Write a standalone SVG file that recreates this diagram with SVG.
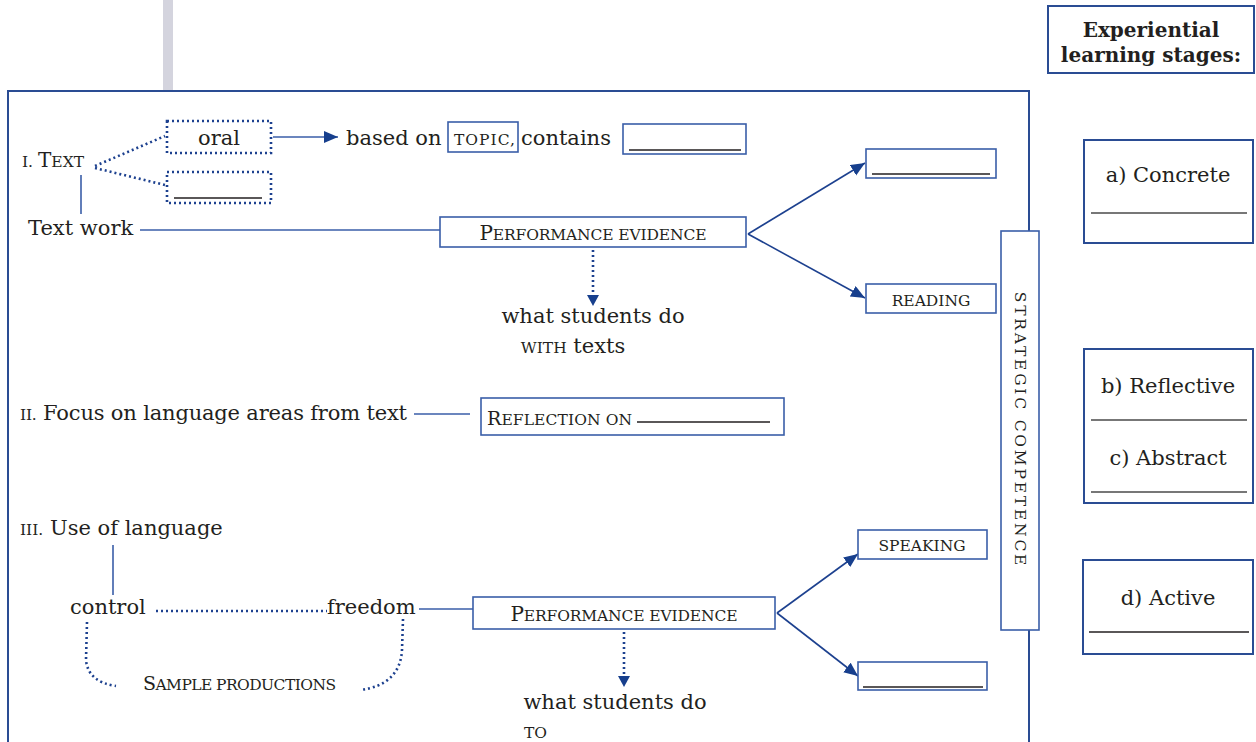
<svg xmlns="http://www.w3.org/2000/svg" width="1256" height="742" viewBox="0 0 1256 742">
<defs>
<marker id="ah" markerUnits="userSpaceOnUse" markerWidth="16" markerHeight="14" refX="14" refY="6" orient="auto">
<path d="M0,0 L14,6 L0,12 Z" fill="#173f8d"/>
</marker>
<style>
text{font-family:"DejaVu Serif","Liberation Serif",serif;fill:#231f20;font-size:21px}
.sc{font-size:15.5px}
.box{fill:#fff;stroke:#3a5ea8;stroke-width:1.6}
.bx2{fill:#fff;stroke:#2a4c93;stroke-width:2}
.dot{fill:none;stroke:#1d418f;stroke-width:2.6;stroke-dasharray:2 3}
.ln{fill:none;stroke:#3a5ea8;stroke-width:1.6}
.arr{fill:none;stroke:#1d418f;stroke-width:1.6}
.ul{stroke:#231f20;stroke-width:1.6}
.gl{stroke:#4a4a4a;stroke-width:1.6}
.bold{font-weight:bold;font-size:20px}
</style>
</defs>
<rect x="163" y="0" width="10" height="91" fill="#d4d4de"/>
<rect id="frame" x="8" y="91" width="1021" height="680" fill="none" stroke="#2a4c93" stroke-width="2"/>

<g id="connectors">
<path class="dot" d="M95,166 L165,136"/>
<path class="dot" d="M95,168 L165,185"/>
<path class="ln" d="M81,175 L81,214"/>
<path class="ln" d="M273,137 L338,137" marker-end="url(#ah)"/>
<path class="ln" d="M140,230 L440,230"/>
<path class="dot" d="M593,250 L593,296"/>
<path d="M587,295 L599,295 L593,306 Z" fill="#173f8d"/>
<path class="arr" d="M748,234 L865,163" marker-end="url(#ah)"/>
<path class="arr" d="M748,234 L865,298" marker-end="url(#ah)"/>
<path class="ln" d="M414,414 L470,414"/>
<path class="ln" d="M113,545 L113,595"/>
<path class="dot" d="M156,611 L327,611"/>
<path class="ln" d="M419,609 L473,609"/>
<path class="dot" d="M624,632 L624,677"/>
<path d="M618,676 L630,676 L624,687 Z" fill="#173f8d"/>
<path class="arr" d="M777,613 L858,554" marker-end="url(#ah)"/>
<path class="arr" d="M777,613 L858,676" marker-end="url(#ah)"/>
<path class="dot" d="M87,622 L86,660 Q88,682 116,686"/>
<path class="dot" d="M403,619 L402,650 Q400,685 360,690"/>
</g>

<g id="text-i">
<text x="22" y="167"><tspan class="sc">I. </tspan><tspan font-size="20">T</tspan><tspan class="sc">EXT</tspan></text>
</g>
<g id="oral">
<rect x="167" y="121" width="104" height="32" fill="#fff" stroke="#1d418f" stroke-width="2.6" stroke-dasharray="2 3"/>
<text x="219" y="145" text-anchor="middle">oral</text>
</g>
<g id="blank-oral">
<rect x="167" y="172" width="104" height="31" fill="#fff" stroke="#1d418f" stroke-width="2.6" stroke-dasharray="2 3"/>
<line class="ul" x1="174" y1="198" x2="262" y2="198"/>
</g>
<g id="based-on">
<text x="346" y="145">based on</text>
<rect class="box" x="448" y="122" width="70" height="30"/>
<text x="454" y="145" class="sc" textLength="61">TOPIC,</text>
<text x="521" y="145">contains</text>
</g>
<g id="contains-blank">
<rect class="box" x="623" y="124" width="123" height="30"/>
<line class="ul" x1="629" y1="150" x2="741" y2="150"/>
</g>
<g id="text-work"><text x="28" y="235">Text work</text></g>
<g id="perf1">
<rect class="box" x="440" y="217" width="306" height="30"/>
<text x="593" y="240" text-anchor="middle" textLength="227"><tspan font-size="20">P</tspan><tspan class="sc">ERFORMANCE EVIDENCE</tspan></text>
</g>
<g id="what1">
<text x="593" y="323" text-anchor="middle">what students do</text>
<text x="573" y="353" text-anchor="middle"><tspan class="sc">WITH</tspan> texts</text>
</g>
<g id="blank-top">
<rect class="box" x="866" y="149" width="130" height="29"/>
<line class="ul" x1="872" y1="174" x2="990" y2="174"/>
</g>
<g id="reading">
<rect class="box" x="866" y="284" width="130" height="29"/>
<text x="931" y="306" text-anchor="middle" class="sc">READING</text>
</g>
<g id="strategic">
<rect class="box" x="1001" y="231" width="38" height="399"/>
<text transform="translate(1020,430) rotate(90)" y="5" text-anchor="middle" class="sc" letter-spacing="2.8">STRATEGIC  COMPETENCE</text>
</g>
<g id="focus">
<text x="20" y="420" textLength="387"><tspan class="sc">II.</tspan> Focus on language areas from text</text>
</g>
<g id="reflection">
<rect class="box" x="481" y="398" width="303" height="37"/>
<text x="487" y="425" textLength="145"><tspan font-size="19">R</tspan><tspan class="sc">EFLECTION ON</tspan></text>
<line class="ul" x1="637" y1="422" x2="770" y2="422"/>
</g>
<g id="use">
<text x="20" y="535"><tspan class="sc">III.</tspan> Use of language</text>
</g>
<g id="control"><text x="70" y="614">control</text></g>
<g id="freedom"><text x="327" y="614">freedom</text></g>
<g id="sample">
<text x="143" y="690" textLength="193"><tspan font-size="19">S</tspan><tspan class="sc">AMPLE PRODUCTIONS</tspan></text>
</g>
<g id="perf2">
<rect class="box" x="473" y="597" width="302" height="32"/>
<text x="624" y="621" text-anchor="middle" textLength="227"><tspan font-size="20">P</tspan><tspan class="sc">ERFORMANCE EVIDENCE</tspan></text>
</g>
<g id="what2">
<text x="615" y="709" text-anchor="middle">what students do</text>
<text x="524" y="738" class="sc">TO</text>
</g>
<g id="speaking">
<rect class="box" x="858" y="530" width="129" height="29"/>
<text x="922" y="551" text-anchor="middle" class="sc">SPEAKING</text>
</g>
<g id="blank-bottom">
<rect class="box" x="858" y="662" width="129" height="28"/>
<line class="ul" x1="863" y1="687" x2="983" y2="687"/>
</g>

<g id="stages-title">
<rect class="bx2" x="1048" y="6" width="206" height="67"/>
<text x="1151" y="37" text-anchor="middle" class="bold">Experiential</text>
<text x="1151" y="62" text-anchor="middle" class="bold">learning stages:</text>
</g>
<g id="concrete">
<rect class="bx2" x="1084" y="140" width="169" height="103"/>
<text x="1168" y="182" text-anchor="middle">a) Concrete</text>
<line class="gl" x1="1091" y1="213" x2="1247" y2="213"/>
</g>
<g id="reflective-abstract">
<rect class="bx2" x="1084" y="349" width="169" height="154"/>
<text x="1168" y="393" text-anchor="middle">b) Reflective</text>
<line class="gl" x1="1091" y1="420" x2="1247" y2="420"/>
<text x="1168" y="465" text-anchor="middle">c) Abstract</text>
<line class="gl" x1="1091" y1="492" x2="1247" y2="492"/>
</g>
<g id="active">
<rect class="bx2" x="1083" y="560" width="170" height="94"/>
<text x="1168" y="605" text-anchor="middle">d) Active</text>
<line class="ul" x1="1089" y1="632" x2="1249" y2="632"/>
</g>
</svg>
